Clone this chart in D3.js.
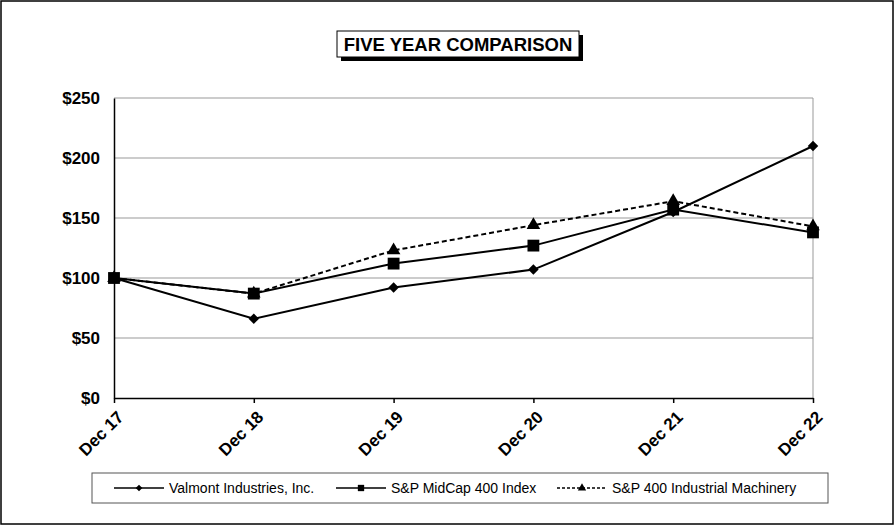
<!DOCTYPE html>
<html><head><meta charset="utf-8">
<script src="https://cdn.jsdelivr.net/npm/d3@7"></script>
<style>body{margin:0;background:#fff}svg{display:block}</style>
</head><body>
<svg id="c" width="896" height="526"></svg>
<script>
const categories = ["Dec 17","Dec 18","Dec 19","Dec 20","Dec 21","Dec 22"];
const valmont = [100, 66, 92, 107, 155, 210];
const midcap = [100, 87, 112, 127, 157, 138];
const machinery = [100, 87, 123, 144, 164, 143];
const yTicks = [0, 50, 100, 150, 200, 250];
const seriesNames = ["Valmont Industries, Inc.", "S&P MidCap 400 Index", "S&P 400 Industrial Machinery"];

const svg = d3.select("#c");
const F = "'Liberation Sans', Arial, sans-serif";
const m = {l:114, r:813, t:98, b:398};

svg.append("rect").attr("x",1).attr("y",1).attr("width",892).attr("height",523)
  .attr("fill","#fff").attr("stroke","#000").attr("stroke-width",1.5);

// title
svg.append("rect").attr("x",341).attr("y",35).attr("width",242).attr("height",26).attr("fill","#000");
svg.append("rect").attr("x",337).attr("y",31).attr("width",242).attr("height",26).attr("fill","#fff").attr("stroke","#000").attr("stroke-width",1);
svg.append("text").attr("x",458).attr("y",51).attr("text-anchor","middle")
  .attr("font-family",F).attr("font-weight","bold").attr("font-size",18.5).text("FIVE YEAR COMPARISON");

const x = d3.scalePoint().domain(categories).range([m.l, m.r]);
const y = d3.scaleLinear().domain([0,250]).range([m.b, m.t]);

// grid
svg.append("g").selectAll("line").data(yTicks.filter(d=>d>0)).join("line")
  .attr("x1",m.l).attr("x2",m.r).attr("y1",d=>y(d)).attr("y2",d=>y(d))
  .attr("stroke","#999").attr("stroke-width",1);
svg.append("line").attr("x1",m.r).attr("x2",m.r).attr("y1",m.t).attr("y2",m.b).attr("stroke","#999");

// y axis
const ya = svg.append("g").attr("transform",`translate(${m.l},0)`)
  .call(d3.axisLeft(y).tickValues(yTicks).tickSize(0).tickPadding(14).tickFormat(d=>"$"+d));
ya.select(".domain").attr("stroke","#000").attr("stroke-width",1.5);
ya.selectAll("text").attr("font-family",F).attr("font-weight","bold").attr("font-size",17).attr("fill","#000");

// x axis
const xa = svg.append("g").attr("transform",`translate(0,${m.b})`)
  .call(d3.axisBottom(x).tickSize(5).tickSizeOuter(0));
xa.select(".domain").attr("stroke","#000").attr("stroke-width",1.5);
xa.selectAll(".tick line").attr("stroke","#000").attr("stroke-width",1.5);
xa.selectAll("text").attr("font-family",F).attr("font-weight","bold").attr("font-size",17).attr("fill","#000")
  .attr("text-anchor","end").attr("y",0).attr("x",0).attr("dy","0.35em")
  .attr("transform","translate(6,16) rotate(-45)");

const line = d3.line().x((d,i)=>x(categories[i])).y(d=>y(d));
const data = [
  {v:valmont, dash:null, sym:d3.symbolSquare, size:55, rot:45},
  {v:midcap, dash:null, sym:d3.symbolSquare, size:140, rot:0},
  {v:machinery, dash:"5,3", sym:d3.symbolTriangle, size:80, rot:0}
];
[2,1,0].forEach(k=>{
  const s = data[k];
  svg.append("path").datum(s.v).attr("d",line).attr("fill","none").attr("stroke","#000")
    .attr("stroke-width",2).attr("stroke-dasharray",s.dash);
});
[2,1,0].forEach(k=>{
  const s = data[k];
  svg.append("g").selectAll("path").data(s.v).join("path")
    .attr("d",d3.symbol().type(s.sym).size(s.size))
    .attr("transform",(d,i)=>`translate(${x(categories[i])},${y(d)}) rotate(${s.rot})`).attr("fill","#000");
});

// legend
svg.append("rect").attr("x",92).attr("y",473).attr("width",736).attr("height",30)
  .attr("fill","#fff").attr("stroke","#555").attr("stroke-width",1);
const lx = [114, 336, 557];
const lsz = [22, 40, 30];
seriesNames.forEach((n,i)=>{
  const g = svg.append("g").attr("transform",`translate(${lx[i]},488)`);
  g.append("line").attr("x1",0).attr("x2",50).attr("y1",0).attr("y2",0).attr("stroke","#000")
    .attr("stroke-width",1.5).attr("stroke-dasharray",data[i].dash? "3,2":null);
  g.append("path").attr("d",d3.symbol().type(data[i].sym).size(lsz[i])).attr("transform",`translate(25,0) rotate(${data[i].rot})`);
  g.append("text").attr("x",55).attr("y",5).attr("font-family",F).attr("font-size",14).attr("fill","#000").text(n);
});
</script>
</body></html>
